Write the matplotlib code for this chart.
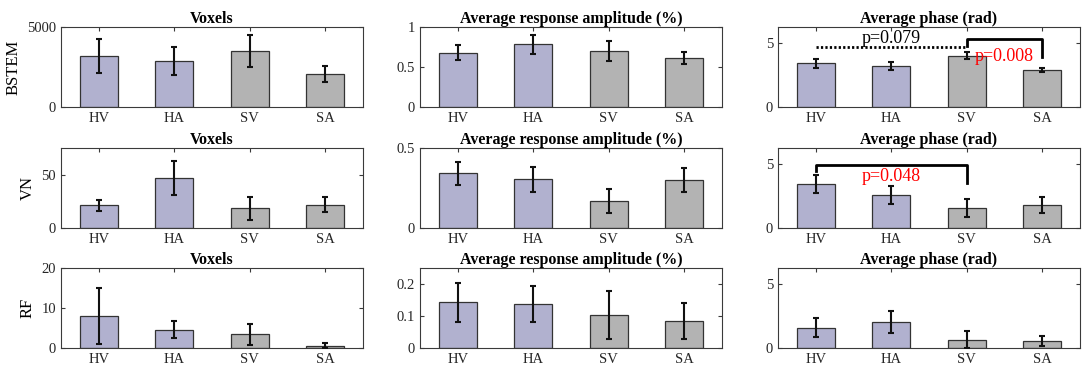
import matplotlib.pyplot as plt
import numpy as np

plt.rcParams.update({
    "font.family": ["Liberation Serif", "DejaVu Serif"],
    "axes.edgecolor": "#3a3a3a",
    "axes.linewidth": 0.8,
    "xtick.direction": "in",
    "ytick.direction": "in",
    "xtick.top": True,
    "ytick.right": True,
    "xtick.color": "#3a3a3a",
    "ytick.color": "#3a3a3a",
    "xtick.labelcolor": "#262626",
    "ytick.labelcolor": "#262626",
    "xtick.major.size": 3,
    "ytick.major.size": 3,
})

conds = ["HV", "HA", "SV", "SA"]
regions = ["BSTEM", "VN", "RF"]
titles = ["Voxels", "Average response amplitude (%)", "Average phase (rad)"]

# means / errors, one list per region x measure
bstem_vox = [3200, 2880, 3500, 2080]
bstem_vox_err = [1080, 850, 1000, 500]
bstem_amp = [0.68, 0.785, 0.70, 0.61]
bstem_amp_err = [0.09, 0.117, 0.13, 0.073]
bstem_ph = [3.45, 3.20, 4.02, 2.88]
bstem_ph_err = [0.35, 0.33, 0.28, 0.17]

vn_vox = [21.3, 47.0, 18.5, 22.0]
vn_vox_err = [5.3, 15.6, 10.7, 6.7]
vn_amp = [0.342, 0.306, 0.169, 0.297]
vn_amp_err = [0.071, 0.078, 0.076, 0.075]
vn_ph = [3.47, 2.61, 1.55, 1.79]
vn_ph_err = [0.72, 0.70, 0.69, 0.64]

rf_vox = [8.1, 4.56, 3.38, 0.6]
rf_vox_err = [7.0, 2.15, 2.74, 0.68]
rf_amp = [0.143, 0.138, 0.103, 0.084]
rf_amp_err = [0.061, 0.056, 0.076, 0.057]
rf_ph = [1.61, 2.03, 0.65, 0.52]
rf_ph_err = [0.74, 0.85, 0.68, 0.40]

means = [[bstem_vox, bstem_amp, bstem_ph],
         [vn_vox, vn_amp, vn_ph],
         [rf_vox, rf_amp, rf_ph]]
errs = [[bstem_vox_err, bstem_amp_err, bstem_ph_err],
        [vn_vox_err, vn_amp_err, vn_ph_err],
        [rf_vox_err, rf_amp_err, rf_ph_err]]

ylims = [[5000, 1.0, 2 * np.pi], [75, 0.5, 2 * np.pi], [20, 0.25, 2 * np.pi]]
yticks = [[[0, 5000], [0, 0.5, 1], [0, 5]],
          [[0, 50], [0, 0.5], [0, 5]],
          [[0, 10, 20], [0, 0.1, 0.2], [0, 5]]]
ytlabels = [[["0", "5000"], ["0", "0.5", "1"], ["0", "5"]],
            [["0", "50"], ["0", "0.5"], ["0", "5"]],
            [["0", "10", "20"], ["0", "0.1", "0.2"], ["0", "5"]]]

HEALTHY_C = "#b1b1cf"
SUBJ_C = "#b3b3b3"
bar_colors = [HEALTHY_C, HEALTHY_C, SUBJ_C, SUBJ_C]

W, H = 1082, 373
fig = plt.figure(figsize=(W / 100, H / 100), dpi=100)

lefts = [61, 420, 778]
aw = 302
tops = [27, 148, 268]
ah = 80

axes = [[None] * 3 for _ in range(3)]
x = np.arange(1, 5)
for r in range(3):
    for c in range(3):
        ax = fig.add_axes([lefts[c] / W, 1 - (tops[r] + ah) / H, aw / W, ah / H])
        ax.bar(x, means[r][c], width=0.5, color=bar_colors,
               edgecolor="#333333", linewidth=0.9, zorder=2)
        ax.errorbar(x, means[r][c], yerr=errs[r][c], fmt="none",
                    ecolor="#111111", elinewidth=1.5, capsize=2.5,
                    capthick=1.5, zorder=3)
        ax.set_xlim(0.5, 4.5)
        ax.set_ylim(0, ylims[r][c])
        ax.set_xticks(x)
        ax.set_xticklabels(conds, fontsize=10.5)
        ax.set_yticks(yticks[r][c])
        ax.set_yticklabels(ytlabels[r][c], fontsize=10.5)
        ax.set_title(titles[c], fontsize=11.5, fontweight="bold", pad=2)
        if c == 0:
            ax.set_ylabel(regions[r], fontsize=12, labelpad=4)
        axes[r][c] = ax

# significance marks, BSTEM phase
ax = axes[0][2]
ax.plot([1, 3], [4.72, 4.72], color="black", lw=2, ls=(0, (0.8, 0.8)))
ax.text(2, 4.68, "p=0.079", ha="center", va="bottom", fontsize=13)
ax.plot([3, 3, 4, 4], [4.79, 5.31, 5.31, 3.94], color="black", lw=2)
ax.text(3.49, 4.0, "p=0.008", ha="center", va="center", fontsize=13,
        color="#ff0000", zorder=5)

# significance marks, VN phase
ax = axes[1][2]
ax.plot([1, 1, 3, 3], [4.47, 4.95, 4.95, 3.55], color="black", lw=2)
ax.text(2, 4.08, "p=0.048", ha="center", va="center", fontsize=13,
        color="#ff0000")

fig.savefig("out.png", dpi=100)
